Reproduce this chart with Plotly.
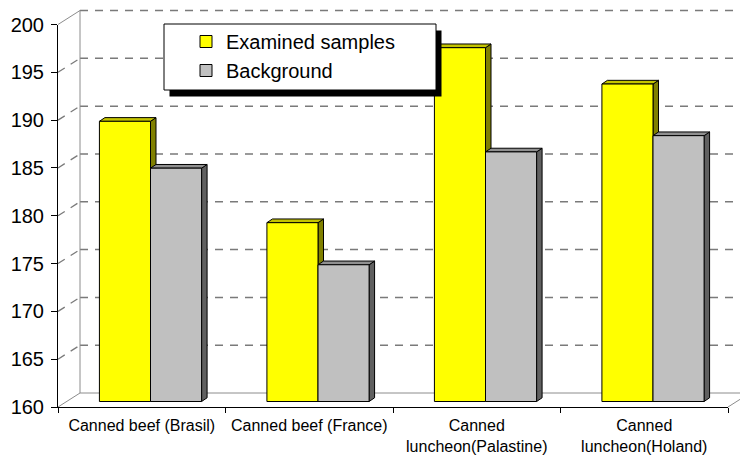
import plotly.graph_objects as go

# ---- data -------------------------------------------------------------
categories = ["Canned beef (Brasil)", "Canned beef (France)",
              "Canned<br>luncheon(Palastine)", "Canned<br>luncheon(Holand)"]
examined = [189.3, 178.7, 197.0, 193.2]
background = [184.4, 174.3, 186.1, 187.8]
series_names = ["Examined samples", "Background"]
y_ticks = [160, 165, 170, 175, 180, 185, 190, 195, 200]

# ---- geometry of the pseudo-3D box (pixels) ---------------------------
W, H = 740, 457
FX0, FX1 = 58, 728          # front x-axis extent
FY0, FY1 = 407, 24.5        # front y-axis: bottom (160) and top (200)
YMIN, YMAX = y_ticks[0], y_ticks[-1]
S = (FY0 - FY1) / (YMAX - YMIN)        # px per unit
BACK = (22, -14)            # offset of the back wall
PLANE = (8.75, -5.5)        # offset of the bar front faces
DEPTH = (5.5, -3.7)         # bar thickness
GAP = 0.39
CATW = (FX1 - FX0) / len(categories)

FONT = "Liberation Sans, Arial, sans-serif"
GRID = "#7a7a7a"


def px(x):
    return x / W


def py(y):
    return (H - y) / H


def front_y(v):
    return FY0 - (v - YMIN) * S


fig = go.Figure()

colors = [("#FFFF00", "#808000", "#C4C400"), ("#C0C0C0", "#606060", "#909090")]
pos = list(range(len(categories)))
for name, vals, (face, _, _) in zip(series_names, [examined, background], colors):
    fig.add_trace(go.Bar(
        x=pos, y=[v - YMIN for v in vals], base=YMIN, name=name,
        xaxis="x2", yaxis="y2",
        marker=dict(color=face, line=dict(color="black", width=1)),
    ))

shapes = []

# back wall dashed gridlines
for v in y_ticks[1:]:
    yb = front_y(v) + BACK[1]
    shapes.append(dict(type="line", xref="paper", yref="paper",
                       x0=px(FX0 + BACK[0]), x1=1.0, y0=py(yb), y1=py(yb),
                       line=dict(color=GRID, width=1.5, dash="8px,7px"), layer="below"))
# side wall dashed gridlines
for v in y_ticks[1:-1]:
    yf = front_y(v)
    shapes.append(dict(type="line", xref="paper", yref="paper",
                       x0=px(FX0), y0=py(yf), x1=px(FX0 + BACK[0]), y1=py(yf + BACK[1]),
                       line=dict(color=GRID, width=1.3, dash="8px,7px"), layer="below"))
# box edges
edges = [
    ((FX0, FY1), (FX0 + BACK[0], FY1 + BACK[1])),
    ((FX0 + BACK[0], FY1 + BACK[1]), (FX0 + BACK[0], FY0 + BACK[1])),
    ((FX0, FY0), (FX0 + BACK[0], FY0 + BACK[1])),
    ((FX0 + BACK[0], FY0 + BACK[1]), (W, FY0 + BACK[1])),
    ((FX1, FY0), (FX1 + BACK[0], FY0 + BACK[1])),
]
for (xa, ya), (xb, yb) in edges:
    shapes.append(dict(type="line", xref="paper", yref="paper",
                       x0=px(xa), y0=py(ya), x1=px(xb), y1=py(yb),
                       line=dict(color="#8c8c8c", width=1), layer="below"))

# bar side and top faces, in bar-plane data units
bw = (1 - GAP) / 2
ddx = DEPTH[0] / CATW
ddy = -DEPTH[1] / S
for k, (vals, (_, side, top)) in enumerate(zip([examined, background], colors)):
    for i, v in enumerate(vals):
        xl = i - bw + k * bw
        xr = xl + bw
        shapes.append(dict(
            type="path", xref="x2", yref="y2", layer="below",
            path=f"M{xr},{YMIN} L{xr},{v} L{xr+ddx},{v+ddy} L{xr+ddx},{YMIN+ddy} Z",
            fillcolor=side, line=dict(color="black", width=1)))
        shapes.append(dict(
            type="path", xref="x2", yref="y2", layer="below",
            path=f"M{xl},{v} L{xr},{v} L{xr+ddx},{v+ddy} L{xl+ddx},{v+ddy} Z",
            fillcolor=top, line=dict(color="black", width=1)))

# legend box with drop shadow
LX0, LY0, LX1, LY1 = 164, 24, 436, 90
shapes.append(dict(type="rect", xref="paper", yref="paper", layer="above",
                   x0=px(LX0 + 5.5), x1=px(LX1 + 5.5), y0=py(LY0 + 6.5), y1=py(LY1 + 6.5),
                   fillcolor="black", line=dict(width=0)))
shapes.append(dict(type="rect", xref="paper", yref="paper", layer="above",
                   x0=px(LX0), x1=px(LX1), y0=py(LY0), y1=py(LY1),
                   fillcolor="white", line=dict(color="black", width=1)))

fig.update_layout(
    width=W, height=H,
    margin=dict(l=0, r=0, t=0, b=0, autoexpand=False),
    paper_bgcolor="white", plot_bgcolor="rgba(0,0,0,0)",
    font=dict(family=FONT, color="black"),
    barmode="group", bargap=GAP, bargroupgap=0,
    shapes=shapes,
    showlegend=True,
    legend=dict(x=px(186), y=py(LY0 - 2), xanchor="left", yanchor="top",
                bgcolor="rgba(0,0,0,0)", borderwidth=0, tracegroupgap=0,
                font=dict(family=FONT, size=20, color="black")),
    xaxis=dict(type="category", domain=[px(FX0), px(FX1)], anchor="y",
               automargin=False, range=[-0.5, len(categories) - 0.5],
               categoryorder="array", categoryarray=categories,
               tickmode="array", tickvals=categories, ticktext=categories,
               tickson="boundaries", ticks="outside", ticklen=5,
               tickcolor="black", tickwidth=1, ticklabelstandoff=4,
               showline=True, linecolor="black", linewidth=1,
               showgrid=False, zeroline=False,
               tickfont=dict(family=FONT, size=16, color="black")),
    yaxis=dict(domain=[py(FY0), py(FY1)], range=[YMIN, YMAX], anchor="x",
               automargin=False,
               tickmode="array", tickvals=y_ticks,
               ticks="outside", ticklen=6, tickcolor="black", tickwidth=1,
               ticklabelstandoff=3,
               showline=True, linecolor="black", linewidth=1,
               showgrid=False, zeroline=False,
               tickfont=dict(family=FONT, size=20, color="black")),
    xaxis2=dict(domain=[px(FX0 + PLANE[0]), px(FX1 + PLANE[0])],
                range=[-0.5, len(categories) - 0.5], anchor="y2", visible=False),
    yaxis2=dict(domain=[py(FY0 + PLANE[1] + S), py(FY1 + PLANE[1])],
                range=[YMIN - 1, YMAX], anchor="x2", visible=False),
)

# empty trace on the front axes so the category axis carries its labels
fig.add_trace(go.Scatter(x=categories, y=[None] * len(categories), xaxis="x", yaxis="y",
                         mode="markers", showlegend=False, hoverinfo="skip"))

fig.write_html("out.html")
